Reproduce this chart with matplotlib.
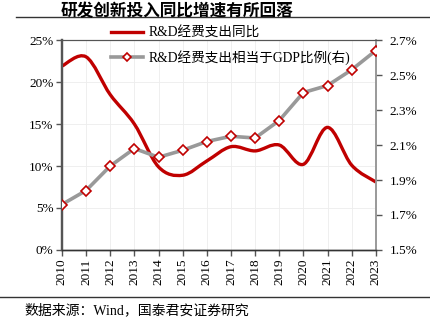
import numpy as np
import matplotlib
matplotlib.use("Agg")
import matplotlib.pyplot as plt
from matplotlib.path import Path
from matplotlib.patches import PathPatch
from matplotlib.lines import Line2D

plt.rcParams['font.family'] = ['Liberation Serif', 'Noto Sans CJK SC', 'DejaVu Sans']

years = [2010, 2011, 2012, 2013, 2014, 2015, 2016, 2017, 2018, 2019, 2020, 2021, 2022, 2023]
rd_yoy = [21.9, 23.0, 18.5, 15.0, 9.9, 8.9, 10.6, 12.3, 11.8, 12.5, 10.2, 14.6, 10.1, 8.1]
rd_gdp = [1.76, 1.84, 1.98, 2.08, 2.03, 2.07, 2.12, 2.15, 2.14, 2.24, 2.40, 2.44, 2.53, 2.64]

left_ticks = [0, 5, 10, 15, 20, 25]
right_ticks = [1.5, 1.7, 1.9, 2.1, 2.3, 2.5, 2.7]

red = '#C00000'
gray = '#999999'


def smooth_path(x, y):
    # excel-like smoothed line: bezier segments through the data points
    x = np.asarray(x, float)
    y = np.asarray(y, float)
    n = len(x)
    verts = [(x[0], y[0])]
    codes = [Path.MOVETO]
    for i in range(n - 1):
        i0 = max(i - 1, 0)
        i3 = min(i + 2, n - 1)
        c1 = (x[i] + (x[i + 1] - x[i0]) / 6, y[i] + (y[i + 1] - y[i0]) / 6)
        c2 = (x[i + 1] - (x[i3] - x[i]) / 6, y[i + 1] - (y[i3] - y[i]) / 6)
        verts += [c1, c2, (x[i + 1], y[i + 1])]
        codes += [Path.CURVE4] * 3
    return Path(verts, codes)


fig = plt.figure(figsize=(4.3, 3.25), dpi=100)
ax = fig.add_axes([0.144, 0.2308, 0.730, 0.646])
ax2 = ax.twinx()

ax.add_patch(PathPatch(smooth_path(years, rd_yoy), facecolor='none', edgecolor=red, lw=2.4, zorder=3))
ax.plot(years, rd_yoy, color='none')

ax2.plot(years, rd_gdp, color=gray, lw=2.6, marker='D', ms=5.5, mfc='white', mec=red, mew=1.2, zorder=3)

ax.set_xlim(2010, 2023)
ax.set_ylim(0, 25)
ax2.set_ylim(1.5, 2.7)
ax.set_xticks(years)
ax.set_xticklabels([str(y) for y in years], rotation=90, fontsize=9.5)
ax.set_yticks(left_ticks)
ax.set_yticklabels([f'{v}%' for v in left_ticks], fontsize=9.5)
ax2.set_yticks(right_ticks)
ax2.set_yticklabels([f'{v:.1f}%' for v in right_ticks], fontsize=9.5)

ax.grid(True, color='#EDEDED', lw=0.6)
ax.set_axisbelow(True)
ax.tick_params(axis='both', length=4, width=1, color='#555555', pad=2)
ax2.tick_params(axis='y', length=4, width=1, color='#555555', pad=6)

for a in (ax, ax2):
    a.spines['left'].set_color('#555555')
    a.spines['left'].set_linewidth(1.6)
    a.spines['bottom'].set_color('#333333')
    a.spines['bottom'].set_linewidth(1.0)
    a.spines['top'].set_color('#555555')
    a.spines['top'].set_linewidth(0.8)
    a.spines['right'].set_color('#999999')
    a.spines['right'].set_linewidth(1.2)

handles = [
    Line2D([], [], color=red, lw=2.4),
    Line2D([], [], color=gray, lw=2.6, marker='D', ms=4.5, mfc='white', mec=red, mew=1.2),
]
labels = ['R&D经费支出同比', 'R&D经费支出相当于GDP比例(右)']
fig.legend(handles, labels, loc='upper left', bbox_to_anchor=(0.237, 0.948), frameon=False,
           prop={'family': ['Liberation Serif', 'Noto Sans CJK SC'], 'size': 9.8},
           handlelength=2.3, handletextpad=0.4, labelspacing=0.75, borderpad=0.2)

fig.text(0.14, 0.965, '研发创新投入同比增速有所回落', fontsize=12, fontweight='bold',
         family=['Noto Sans CJK SC'], ha='left', va='center')
fig.add_artist(Line2D([0.037, 1.0], [0.948, 0.948], color='#333333', lw=1.0))
fig.add_artist(Line2D([0.0, 1.0], [0.086, 0.086], color='#333333', lw=1.0))
fig.text(0.058, 0.045, '数据来源：Wind，国泰君安证券研究', fontsize=10,
         family=['Liberation Serif', 'Noto Sans CJK SC'], ha='left', va='center')

fig.savefig('out.png', dpi=100)
